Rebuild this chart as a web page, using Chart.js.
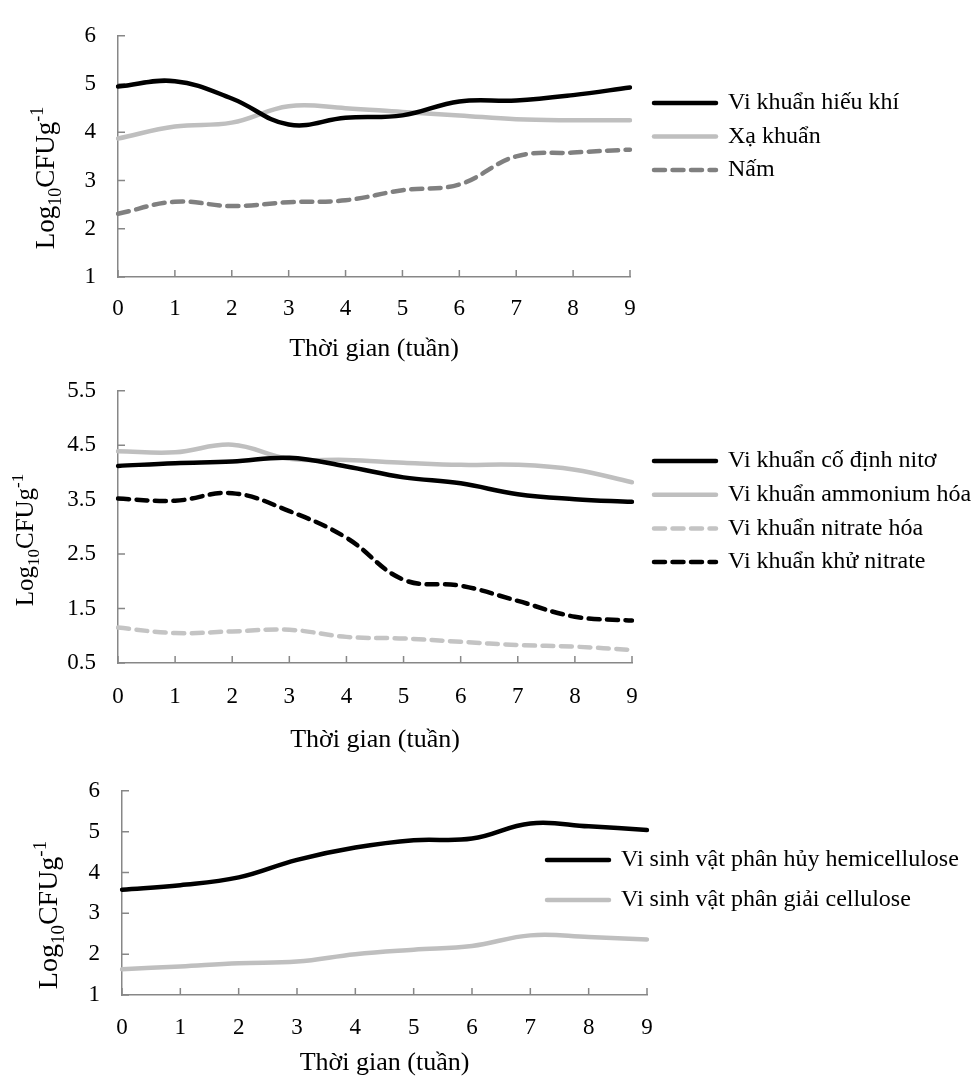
<!DOCTYPE html>
<html>
<head>
<meta charset="utf-8">
<script src="https://cdn.jsdelivr.net/npm/chart.js@4.4.1/dist/chart.umd.min.js"></script>
<style>
  html, body { margin: 0; padding: 0; background: #fff; }
  body { width: 976px; height: 1077px; position: relative; overflow: hidden; }
  canvas { position: absolute; left: 0; }
</style>
</head>
<body>
<canvas id="chart-1" width="976" height="370" style="top:0px"></canvas>
<canvas id="chart-2" width="976" height="405" style="top:355px"></canvas>
<canvas id="chart-3" width="976" height="325" style="top:755px"></canvas>
<script>
// weeks on the x axis
const weeks = ["0", "1", "2", "3", "4", "5", "6", "7", "8", "9"];

// chart 1
const hieu_khi = [4.95, 5.06, 4.70, 4.16, 4.30, 4.35, 4.64, 4.66, 4.77, 4.93];
const xa_khuan = [3.87, 4.12, 4.20, 4.54, 4.50, 4.42, 4.35, 4.27, 4.25, 4.25];
const nam = [2.31, 2.56, 2.47, 2.55, 2.59, 2.80, 2.92, 3.50, 3.58, 3.64];
const y_ticks_1 = [1, 2, 3, 4, 5, 6];

// chart 2
const co_dinh_nito = [4.12, 4.17, 4.20, 4.27, 4.11, 3.91, 3.80, 3.60, 3.51, 3.46];
const ammonium_hoa = [4.39, 4.37, 4.51, 4.25, 4.23, 4.18, 4.14, 4.14, 4.05, 3.82];
const nitrate_hoa = [1.15, 1.05, 1.08, 1.11, 0.98, 0.95, 0.89, 0.83, 0.80, 0.74];
const khu_nitrate = [3.52, 3.48, 3.62, 3.29, 2.80, 2.03, 1.92, 1.64, 1.35, 1.28];
const y_ticks_2 = [0.5, 1.5, 2.5, 3.5, 4.5, 5.5];

// chart 3
const hemicellulose = [3.58, 3.69, 3.88, 4.31, 4.61, 4.79, 4.83, 5.20, 5.13, 5.04];
const cellulose = [1.63, 1.70, 1.78, 1.82, 2.00, 2.11, 2.20, 2.46, 2.42, 2.36];
const y_ticks_3 = [1, 2, 3, 4, 5, 6];

const AXIS_COLOR = "#878787";
const FONT = "Liberation Serif";

Chart.defaults.font.family = FONT;
Chart.defaults.color = "#000";

// ticks pointing into the plot, like the excel original
const inner_ticks = {
  id: "innerTicks",
  beforeDatasetsDraw(chart) {
    const ctx = chart.ctx;
    const x = chart.scales.x;
    const y = chart.scales.y;
    ctx.save();
    ctx.strokeStyle = AXIS_COLOR;
    ctx.lineWidth = 1.5;
    ctx.beginPath();
    x.ticks.forEach((_t, i) => {
      const px = x.getPixelForTick(i);
      ctx.moveTo(px, x.top);
      ctx.lineTo(px, x.top - 7);
    });
    y.ticks.forEach((_t, i) => {
      const py = y.getPixelForTick(i);
      ctx.moveTo(y.right, py);
      ctx.lineTo(y.right + 7, py);
    });
    ctx.stroke();
    ctx.restore();
  },
};

// Log10CFUg-1 with sub/superscript
const y_title = {
  id: "yTitle",
  afterDraw(chart, _args, opts) {
    const ctx = chart.ctx;
    const big = opts.size + "px '" + FONT + "'";
    const small = Math.round(opts.size * 0.68) + "px '" + FONT + "'";
    const parts = [
      ["Log", big, 0],
      ["10", small, opts.size * 0.25],
      ["CFUg", big, 0],
      ["-1", small, -opts.size * 0.4],
    ];
    ctx.save();
    ctx.translate(opts.x, opts.y);
    ctx.rotate(-Math.PI / 2);
    ctx.fillStyle = "#000";
    ctx.textBaseline = "alphabetic";
    let total = 0;
    parts.forEach((p) => {
      ctx.font = p[1];
      total += ctx.measureText(p[0]).width;
    });
    let cx = -total / 2;
    parts.forEach((p) => {
      ctx.font = p[1];
      ctx.fillText(p[0], cx, p[2]);
      cx += ctx.measureText(p[0]).width;
    });
    ctx.restore();
  },
};

// move the legend next to the lines
const legend_spot = {
  id: "legendSpot",
  afterLayout(chart, _args, opts) {
    const lg = chart.legend;
    const pad = lg.options.labels.padding;
    const size = lg.options.labels.font.size;
    const dx = opts.x - (lg.left + pad);
    const dy = opts.y - (lg.top + pad + size / 2);
    lg.left += dx;
    lg.top += dy;
    lg.right = chart.width;
    lg.bottom = chart.height;
    lg.width = lg.right - lg.left;
    lg.height = lg.bottom - lg.top;
  },
};

// legend samples with the dataset's own dash
function legend_labels(chart) {
  const items = Chart.defaults.plugins.legend.labels.generateLabels(chart);
  items.forEach((it) => {
    const ds = chart.data.datasets[it.datasetIndex];
    it.lineDash = ds.borderDash;
    it.lineWidth = ds.borderWidth;
    it.strokeStyle = ds.borderColor;
    it.lineCap = "round";
  });
  return items;
}

function line_set(label, data, color, dashed) {
  return {
    label: label,
    data: data,
    borderColor: color,
    backgroundColor: color,
    borderWidth: 4.5,
    borderDash: dashed ? [11, 7.5] : [],
    borderCapStyle: "round",
    borderJoinStyle: "round",
    pointRadius: 0,
    tension: 0.4,
    fill: false,
  };
}

function make_chart(id, datasets, y_ticks, box) {
  const ctx = document.getElementById(id);
  const options = {
    responsive: false,
    animation: false,
    layout: {
      padding: { top: box.top, right: box.right, bottom: box.bottom, left: 0 },
    },
    plugins: {
      legend: {
        position: "right",
        align: "start",
        maxWidth: 100,
        labels: {
          usePointStyle: true,
          pointStyle: "line",
          pointStyleWidth: 62,
          padding: box.gap,
          color: "#000",
          font: { size: 24 },
          generateLabels: legend_labels,
        },
      },
      tooltip: { enabled: false },
      legendSpot: { x: box.legend_x, y: box.legend_y },
      yTitle: { x: box.title_x, y: box.title_y, size: box.title_size },
    },
    scales: {
      x: {
        grid: { display: false, drawTicks: false },
        border: { color: AXIS_COLOR, width: 1.5 },
        ticks: {
          color: "#000",
          font: { size: 23 },
          padding: box.x_pad,
          maxRotation: 0,
          autoSkip: false,
        },
        title: {
          display: true,
          text: "Thời gian (tuần)",
          color: "#000",
          font: { size: 26 },
          padding: 0,
        },
        afterFit: (s) => {
          s.height = box.x_height;
        },
      },
      y: {
        min: y_ticks[0],
        max: y_ticks[y_ticks.length - 1],
        grid: { display: false, drawTicks: false },
        border: { color: AXIS_COLOR, width: 1.5 },
        ticks: {
          color: "#000",
          font: { size: 23 },
          padding: 22,
          callback: (v) => (y_ticks[0] % 1 ? v.toFixed(1) : v),
        },
        afterBuildTicks: (s) => {
          s.ticks = y_ticks.map((v) => ({ value: v }));
        },
        afterFit: (s) => {
          s.width = box.y_width;
        },
      },
    },
  };

  return new Chart(ctx, {
    type: "line",
    data: { labels: weeks, datasets: datasets },
    options: options,
    plugins: [inner_ticks, y_title, legend_spot],
  });
}

make_chart(
  "chart-1",
  [
    line_set("Vi khuẩn hiếu khí", hieu_khi, "#000000", false),
    line_set("Xạ khuẩn", xa_khuan, "#bfbfbf", false),
    line_set("Nấm", nam, "#808080", true),
  ],
  y_ticks_1,
  { top: 24, right: 246, bottom: 5, y_width: 118, x_height: 88, x_pad: 18,
    gap: 9.5, legend_x: 654, legend_y: 103,
    title_x: 54, title_y: 178, title_size: 27 },
);

make_chart(
  "chart-2",
  [
    line_set("Vi khuẩn cố định nitơ", co_dinh_nito, "#000000", false),
    line_set("Vi khuẩn ammonium hóa", ammonium_hoa, "#bfbfbf", false),
    line_set("Vi khuẩn nitrate hóa", nitrate_hoa, "#c4c4c4", true),
    line_set("Vi khuẩn khử nitrate", khu_nitrate, "#000000", true),
  ],
  y_ticks_2,
  { top: 33, right: 244, bottom: 4, y_width: 118, x_height: 93, x_pad: 20,
    gap: 9.7, legend_x: 654, legend_y: 106,
    title_x: 33, title_y: 185, title_size: 25 },
);

make_chart(
  "chart-3",
  [
    line_set("Vi sinh vật phân hủy hemicellulose", hemicellulose, "#000000", false),
    line_set("Vi sinh vật phân giải cellulose", cellulose, "#bfbfbf", false),
  ],
  y_ticks_3,
  { top: 20, right: 229, bottom: 1, y_width: 122, x_height: 84, x_pad: 19,
    gap: 16, legend_x: 547, legend_y: 105,
    title_x: 57, title_y: 160, title_size: 28 },
);
</script>
</body>
</html>
